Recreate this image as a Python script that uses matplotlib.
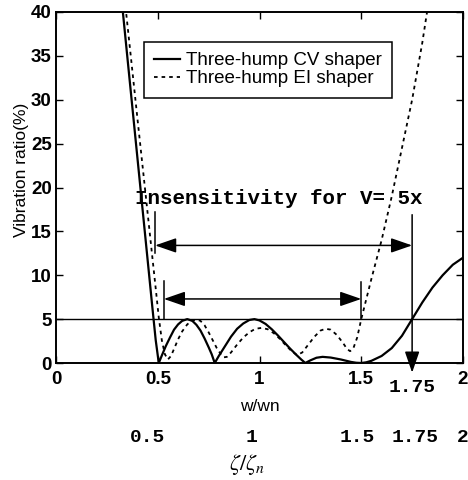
import matplotlib
matplotlib.use('Agg')
import matplotlib.pyplot as plt

plt.rcParams['font.family'] = ['Liberation Sans', 'DejaVu Sans']
plt.rcParams['mathtext.fontset'] = 'stix'

# ── Data ──────────────────────────────────────────────────────────────────────
cv_x = [0.32, 0.35, 0.40, 0.45, 0.475, 0.49, 0.505,
        0.52, 0.54, 0.56, 0.58, 0.60, 0.62, 0.645, 0.67, 0.69, 0.71, 0.73, 0.75, 0.765, 0.78,
        0.80, 0.83, 0.86, 0.89, 0.92, 0.95, 0.975, 1.00, 1.03, 1.06, 1.09, 1.12, 1.15, 1.18, 1.205, 1.225,
        1.25, 1.28, 1.31, 1.35, 1.40, 1.45, 1.475, 1.50, 1.525,
        1.55, 1.60, 1.65, 1.70, 1.75, 1.80, 1.85, 1.90, 1.95, 2.00]
cv_y = [42.0, 35.0, 23.4, 11.8, 6.0, 2.6, 0.0,
        0.85, 1.95, 2.9, 3.8, 4.4, 4.8, 5.0, 4.8, 4.35, 3.7, 2.8, 1.8, 1.0, 0.0,
        0.8, 1.9, 3.0, 3.9, 4.5, 4.9, 5.0, 4.85, 4.45, 3.85, 3.15, 2.4, 1.65, 0.95, 0.4, 0.0,
        0.3, 0.6, 0.7, 0.62, 0.4, 0.12, 0.03, 0.0, 0.08,
        0.25, 0.8, 1.7, 3.1, 5.0, 6.9, 8.6, 10.0, 11.2, 12.0]

ei_x = [0.335, 0.36, 0.40, 0.44, 0.47, 0.49, 0.505, 0.52, 0.535, 0.55, 0.565,
        0.58, 0.60, 0.62, 0.645, 0.67, 0.69, 0.71, 0.73, 0.75, 0.77, 0.79, 0.81, 0.825,
        0.84, 0.86, 0.89, 0.92, 0.95, 0.98, 1.01, 1.04, 1.07, 1.10, 1.13, 1.16, 1.185,
        1.21, 1.24, 1.27, 1.30, 1.325, 1.35, 1.38, 1.41, 1.43, 1.445,
        1.46, 1.48, 1.50, 1.55, 1.60, 1.65, 1.70, 1.75, 1.80, 1.83]
ei_y = [42.0, 36.6, 27.9, 19.3, 12.8, 8.5, 5.2, 2.6, 1.0, 0.4, 0.8,
        1.6, 2.7, 3.6, 4.4, 4.85, 4.95, 4.8, 4.3, 3.5, 2.6, 1.7, 1.0, 0.65,
        0.7, 1.2, 2.1, 2.9, 3.5, 3.9, 4.0, 3.85, 3.4, 2.75, 2.0, 1.3, 0.9,
        1.2, 2.1, 3.0, 3.7, 3.9, 3.8, 3.2, 2.3, 1.6, 1.35,
        1.6, 2.9, 5.0, 9.6, 14.0, 19.0, 24.5, 30.0, 36.5, 41.0]

series_labels = ["Three-hump CV shaper", "Three-hump EI shaper"]

x_ticks = [0, 0.5, 1, 1.5, 2]
x_ticklabels = ["0", "0.5", "1", "1.5", "2"]
y_ticks = [0, 5, 10, 15, 20, 25, 30, 35, 40]
threshold = 5

zeta_ticks = [0.45, 0.96, 1.48, 1.765, 2.0]
zeta_labels = ["0.5", "1", "1.5", "1.75", "2"]

# insensitivity ranges (x from, x to, arrow height)
wide_range = (0.487, 1.75, 13.4)
narrow_range = (0.53, 1.50, 7.3)

# ── Figure ────────────────────────────────────────────────────────────────────
fig = plt.figure(figsize=(4.68, 4.80), dpi=100)
ax = fig.add_axes([56/468, 1 - 363/480, 407/468, 351/480])

ax.plot(cv_x, cv_y, color="black", lw=1.6, label=series_labels[0])
ax.plot(ei_x, ei_y, color="black", lw=1.3, dashes=(2.0, 2.2), label=series_labels[1])
ax.axhline(threshold, color="black", lw=1.0)

ax.set_xlim(0, 2)
ax.set_ylim(0, 40)
ax.set_xticks(x_ticks)
ax.set_xticklabels(x_ticklabels)
ax.set_yticks(y_ticks)
ax.tick_params(direction="in", top=True, right=True, length=5, width=1,
               labelsize=13.5, pad=6)
ax.tick_params(axis="y", pad=3)
for lab in ax.get_xticklabels() + ax.get_yticklabels():
    lab.set_fontweight("bold")
for s in ax.spines.values():
    s.set_linewidth(1.4)

# arrows
head = "head_length=1.3,head_width=0.45"
xa, xb, ya = wide_range
ax.plot([xa, xa], [17.2, 12.5], color="black", lw=1.1)
ax.annotate("", xy=(xa, ya), xytext=(xb, ya),
            arrowprops=dict(arrowstyle="<|-|>," + head, color="black", lw=1.1,
                            shrinkA=0, shrinkB=0, mutation_scale=10))
ax.annotate("", xy=(xb, -1.1), xytext=(xb, 16.9), annotation_clip=False,
            arrowprops=dict(arrowstyle="-|>," + head, color="black", lw=1.1,
                            shrinkA=0, shrinkB=0, mutation_scale=10))
xa, xb, ya = narrow_range
ax.plot([xa, xa], [9.4, 5.0], color="black", lw=1.1)
ax.plot([xb, xb], [9.2, 5.0], color="black", lw=1.1)
ax.annotate("", xy=(xa, ya), xytext=(xb, ya),
            arrowprops=dict(arrowstyle="<|-|>," + head, color="black", lw=1.1,
                            shrinkA=0, shrinkB=0, mutation_scale=10))

ax.text(0.388, 18.8, "Insensitivity for V= 5x", family="Liberation Mono",
        fontweight="bold", fontsize=15, ha="left", va="center")

leg = ax.legend(loc="upper left", bbox_to_anchor=(0.216, 0.915), borderaxespad=0,
                fontsize=13.5, handlelength=1.4, handletextpad=0.3, labelspacing=0.05,
                borderpad=0.55, fancybox=False, framealpha=1, edgecolor="black")
leg.get_frame().set_linewidth(1.1)

# extra axis annotations below
xt = ax.get_xaxis_transform()
ax.text(1.75, -0.071, "1.75", transform=xt, family="Liberation Mono",
        fontweight="bold", fontsize=14, ha="center", va="center")
ax.text(1.0, -0.125, "w/wn", transform=xt, fontsize=12.5, ha="center", va="center")
for xv, lab in zip(zeta_ticks, zeta_labels):
    ax.text(xv, -0.211, lab, transform=xt, family="Liberation Mono",
            fontweight="bold", fontsize=14, ha="center", va="center")
ax.text(0.94, -0.29, r"$\zeta/\zeta_n$", transform=xt, fontsize=16,
        ha="center", va="center")
ax.text(-0.085, 0.55, "Vibration ratio(%)", transform=ax.transAxes, rotation=90,
        fontsize=12.5, ha="center", va="center")

fig.savefig("out.png", dpi=100)
